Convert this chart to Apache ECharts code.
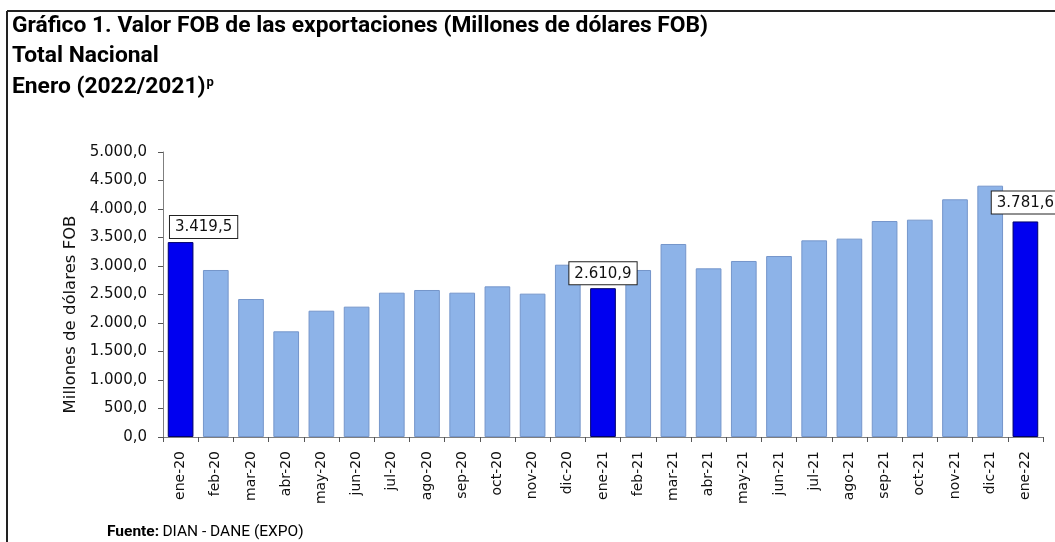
<!DOCTYPE html>
<html>
<head>
<meta charset="utf-8">
<script src="https://cdn.jsdelivr.net/npm/echarts@6/dist/echarts.min.js"></script>
<style>
  html, body { margin: 0; padding: 0; background: #fff; }
  #main { width: 1055px; height: 542px; }
</style>
</head>
<body>
<div id="main"></div>
<script>
// meses (eje x)
const meses = ['ene-20', 'feb-20', 'mar-20', 'abr-20', 'may-20', 'jun-20', 'jul-20', 'ago-20', 'sep-20', 'oct-20', 'nov-20', 'dic-20',
    'ene-21', 'feb-21', 'mar-21', 'abr-21', 'may-21', 'jun-21', 'jul-21', 'ago-21', 'sep-21', 'oct-21', 'nov-21', 'dic-21', 'ene-22'];
// valor FOB, millones de dólares
const valores = [3419.5, 2930, 2421, 1854, 2216, 2287, 2532, 2579, 2532, 2643, 2515, 3023,
    2610.9, 2930, 3386, 2959, 3088, 3175, 3450, 3480, 3789, 3813, 4170, 4409, 3781.6];
// meses de enero resaltados con etiqueta
const resaltados = ['ene-20', 'ene-21', 'ene-22'];
const yTicks = [0, 5000, 500];

const fmt = (v) => {
    const s = v.toFixed(1).split('.');
    return s[0].replace(/\B(?=(\d{3})+(?!\d))/g, '.') + ',' + s[1];
};

const chart = echarts.init(document.getElementById('main'));

const datos = valores.map((v, i) => {
    const on = resaltados.includes(meses[i]);
    if (!on) return v;
    return {
        value: v,
        itemStyle: { color: '#0000f0', borderColor: '#00006a' },
        label: {
            show: true,
            position: 'top',
            distance: i === 0 ? 4 : (i === valores.length - 1 ? 8 : 4),
            offset: i === 0 ? [23, 0] : [0, 0],
            formatter: (p) => fmt(p.value),
            fontFamily: 'DejaVu Sans',
            fontSize: 15,
            color: '#111',
            backgroundColor: '#fff',
            borderColor: '#222',
            borderWidth: 1,
            padding: [4, 5, 3, 5]
        }
    };
});

const option = {
    animation: false,
    grid: { left: 163, right: 12, top: 152, bottom: 105 },
    xAxis: {
        type: 'category',
        data: meses,
        axisLine: { lineStyle: { color: '#7f7f7f' } },
        axisTick: { show: true, length: 5, lineStyle: { color: '#555' } },
        axisLabel: {
            rotate: 90,
            margin: 14,
            fontFamily: 'DejaVu Sans',
            fontSize: 14,
            color: '#111',
            interval: 0
        }
    },
    yAxis: {
        type: 'value',
        min: yTicks[0],
        max: yTicks[1],
        interval: yTicks[2],
        name: 'Millones de dólares FOB',
        nameLocation: 'middle',
        nameGap: 84,
        nameRotate: 90,
        nameTextStyle: { fontFamily: 'DejaVu Sans', fontSize: 16.5, color: '#111', padding: [0, 0, 0, -40] },
        axisLine: { show: true, lineStyle: { color: '#7f7f7f' } },
        axisTick: { show: true, length: 5, lineStyle: { color: '#555' } },
        splitLine: { show: false },
        axisLabel: {
            margin: 16,
            fontFamily: 'DejaVu Sans',
            fontSize: 15,
            color: '#111',
            formatter: (v) => fmt(v)
        }
    },
    series: [{
        type: 'bar',
        data: datos,
        barCategoryGap: '27%',
        itemStyle: { color: '#8db3e8', borderColor: '#7596cb', borderWidth: 1 }
    }],
    graphic: [
        // marco
        { type: 'line', shape: { x1: 7, y1: 11, x2: 1055, y2: 11 }, style: { stroke: '#222', lineWidth: 2 } },
        { type: 'line', shape: { x1: 7, y1: 11, x2: 7, y2: 542 }, style: { stroke: '#222', lineWidth: 2 } },
        {
            type: 'text', left: 12, top: 15,
            style: { text: 'Gráfico 1. Valor FOB de las exportaciones (Millones de dólares FOB)', font: 'bold 22.8px Roboto', fill: '#000' }
        },
        {
            type: 'text', left: 12, top: 45,
            style: { text: 'Total Nacional', font: 'bold 22.8px Roboto', fill: '#000' }
        },
        {
            type: 'text', left: 12, top: 76,
            style: {
                text: '{a|Enero (2022/2021)}{p|p}',
                rich: {
                    a: { fontFamily: 'Roboto', fontWeight: 'bold', fontSize: 22.8, color: '#000' },
                    p: { fontFamily: 'Roboto', fontWeight: 'bold', fontSize: 13, color: '#000', verticalAlign: 'top', padding: [0, 0, 9, 1] }
                }
            }
        },
        {
            type: 'text', left: 107, top: 524,
            style: {
                text: '{b|Fuente:} {n|DIAN - DANE (EXPO)}',
                rich: {
                    b: { fontFamily: 'Roboto', fontWeight: 'bold', fontSize: 15.5, color: '#111' },
                    n: { fontFamily: 'Roboto', fontSize: 15.5, color: '#111' }
                }
            }
        }
    ]
};

chart.setOption(option);
</script>
</body>
</html>
